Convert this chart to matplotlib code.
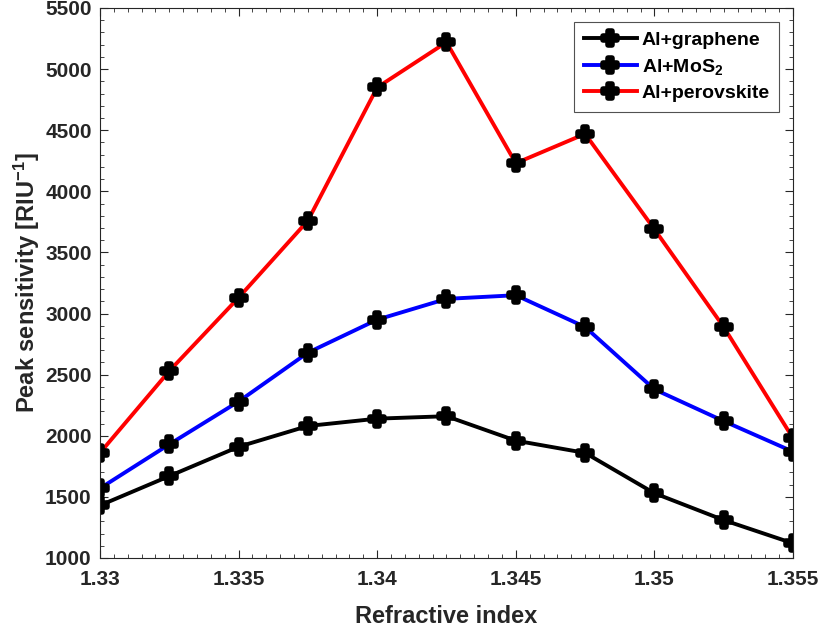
import numpy as np
import matplotlib.pyplot as plt
from matplotlib.markers import MarkerStyle
from matplotlib.ticker import MultipleLocator

n = [1.33, 1.3325, 1.335, 1.3375, 1.34, 1.3425, 1.345, 1.3475, 1.35, 1.3525, 1.355]
graphene = [1430, 1670, 1910, 2080, 2140, 2160, 1960, 1860, 1530, 1310, 1120]
mos2 = [1570, 1930, 2280, 2680, 2950, 3120, 3150, 2890, 2380, 2120, 1870]
perovskite = [1860, 2530, 3130, 3760, 4850, 5220, 4230, 4470, 3690, 2890, 1980]

plt.rcParams['font.family'] = ['Liberation Sans', 'DejaVu Sans']
plt.rcParams['font.weight'] = 'bold'
plt.rcParams['mathtext.fontset'] = 'custom'
plt.rcParams['mathtext.bf'] = 'Liberation Sans:bold'
plt.rcParams['mathtext.rm'] = 'Liberation Sans:bold'
plt.rcParams['mathtext.default'] = 'bf'

fig = plt.figure(figsize=(8.25, 6.29), dpi=100)
ax = fig.add_axes([0.1212, 0.1129, 0.8400, 0.8744])

mstyle = MarkerStyle('P', joinstyle='round')
mk = dict(marker=mstyle, markersize=10, markerfacecolor='k', markeredgecolor='k',
          markeredgewidth=4, linewidth=2.8)
ax.plot(n, graphene, color='k', label='Al+graphene', **mk)
ax.plot(n, mos2, color='b', label='Al+MoS$_2$', **mk)
ax.plot(n, perovskite, color='r', label='Al+perovskite', **mk)

ax.set_xlim(1.33, 1.355)
ax.set_ylim(1000, 5500)
ax.set_xticks([1.33, 1.335, 1.34, 1.345, 1.35, 1.355])
ax.set_xticklabels(['1.33', '1.335', '1.34', '1.345', '1.35', '1.355'])
ax.yaxis.set_major_locator(MultipleLocator(500))
ax.xaxis.set_minor_locator(MultipleLocator(0.0005))
ax.yaxis.set_minor_locator(MultipleLocator(100))
ax.tick_params(which='both', direction='in', top=True, right=True, labelsize=15,
               colors='#262626')
ax.tick_params(which='major', length=6)
ax.tick_params(which='minor', length=3)
ax.tick_params(axis='x', pad=9)
ax.tick_params(axis='y', pad=6)
for s in ax.spines.values():
    s.set_color('#262626')
    s.set_linewidth(0.8)

ax.set_xlabel('Refractive index', fontsize=17, fontweight='bold', color='#262626', labelpad=11)
ax.set_ylabel('Peak sensitivity [RIU$^{-1}$]', fontsize=17, fontweight='bold', color='#262626',
              labelpad=2)

leg = ax.legend(loc='upper right', fontsize=14, fancybox=False, edgecolor='#262626',
                handlelength=2.7, borderpad=0.5, labelspacing=0.4, handletextpad=0.25,
                borderaxespad=0.7)
leg.get_frame().set_linewidth(0.8)

plt.savefig('out.png')
